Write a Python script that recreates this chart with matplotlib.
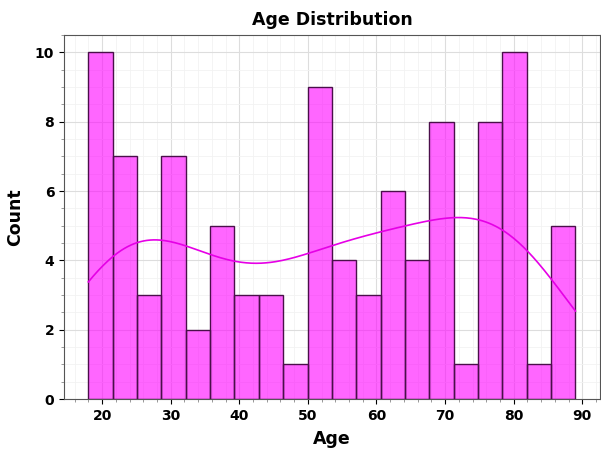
import numpy as np
import matplotlib
matplotlib.use("Agg")
import matplotlib.pyplot as plt

age_min = 18
age_max = 89
n_bins = 20
counts = [10, 7, 3, 7, 2, 5, 3, 3, 1, 9, 4, 3, 6, 4, 8, 1, 8, 10, 1, 5]

counts_arr = np.array(counts, dtype=float)
edges = np.linspace(age_min, age_max, n_bins + 1)
centers = (edges[:-1] + edges[1:]) / 2
width = edges[1] - edges[0]
n = counts_arr.sum()

# Gaussian KDE (Scott's rule) on the binned ages, scaled to counts
mean = np.sum(counts_arr * centers) / n
var = np.sum(counts_arr * (centers - mean) ** 2) / (n - 1) + width ** 2 / 12
std = np.sqrt(var)
bw = std * n ** (-1 / 5)
xs = np.linspace(age_min, age_max, 300)
dens = np.sum(counts_arr[None, :] * np.exp(-0.5 * ((xs[:, None] - centers[None, :]) / bw) ** 2), axis=1)
dens = dens / (n * bw * np.sqrt(2 * np.pi))
kde_counts = dens * n * width

fig, ax = plt.subplots(figsize=(6.01, 4.53), dpi=100)
ax.bar(edges[:-1], counts_arr, width=width, align="edge", color="#ff00ff", alpha=0.6,
       edgecolor="none", zorder=2)
ax.bar(edges[:-1], counts_arr, width=width, align="edge", facecolor="none",
       edgecolor="#4a0f4a", linewidth=1.0, zorder=3)
ax.plot(xs, kde_counts, color="#e600e6", linewidth=1.2, zorder=4)
ax.set_xlim(14.45, 92.55)
ax.set_ylim(0, 10.5)
ax.set_yticks([0, 2, 4, 6, 8, 10])
ax.set_title("Age Distribution", fontweight="bold", fontsize=12.5, pad=7)
ax.set_xlabel("Age", fontweight="bold", fontsize=12.5, labelpad=5)
ax.set_ylabel("Count", fontweight="bold", fontsize=12.5, labelpad=8)
ax.tick_params(labelsize=10)
for lab in ax.get_xticklabels() + ax.get_yticklabels():
    lab.set_fontweight("bold")
ax.minorticks_on()
ax.tick_params(which="minor", length=2, color="#888888")
ax.grid(True, which="major", color="#dddddd", linewidth=0.8)
ax.grid(True, which="minor", color="#f2f2f2", linewidth=0.6)
ax.set_axisbelow(True)
for s in ax.spines.values():
    s.set_color("#555555")
fig.subplots_adjust(left=0.1065, right=0.998, top=0.9227, bottom=0.1192)
fig.savefig("out.png", dpi=100)
